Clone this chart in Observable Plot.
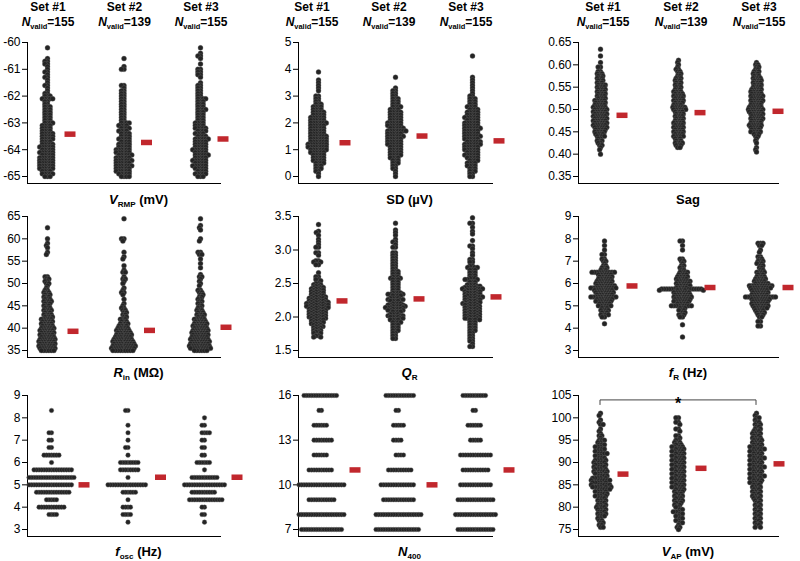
<!DOCTYPE html>
<html><head><meta charset="utf-8">
<script src="https://cdn.jsdelivr.net/npm/d3@7"></script>
<script src="https://cdn.jsdelivr.net/npm/@observablehq/plot@0.6"></script>
<style>
html,body{margin:0;padding:0;background:#fff;}
#chart{position:relative;width:800px;height:561px;overflow:hidden;}
#chart .panel{position:absolute;}
</style></head><body><div id="chart"></div>
<script>
// ---------- data (value, count) ----------
const sets = ["Set #1", "Set #2", "Set #3"];
const nValid = [155, 139, 155];

const vrmp1 = [[-60.2,1],[-60.6,1],[-60.7,2],[-60.8,2],[-60.9,1],[-61.0,1],[-61.1,2],[-61.2,1],[-61.3,2],[-61.4,1],[-61.5,1],[-61.6,2],[-61.7,1],[-61.8,1],[-61.9,2],[-62.0,3],[-62.1,5],[-62.2,2],[-62.3,2],[-62.4,3],[-62.5,3],[-62.6,3],[-62.7,3],[-62.8,3],[-62.9,3],[-63.0,4],[-63.1,4],[-63.2,4],[-63.3,4],[-63.4,5],[-63.5,5],[-63.6,5],[-63.7,4],[-63.8,5],[-63.9,6],[-64.0,5],[-64.1,6],[-64.2,5],[-64.3,6],[-64.4,6],[-64.5,6],[-64.6,6],[-64.7,6],[-64.8,4],[-64.9,5],[-65.0,3]];
const vrmp2 = [[-60.6,1],[-60.9,1],[-61.0,2],[-61.6,2],[-61.7,1],[-61.8,2],[-61.9,2],[-62.0,2],[-62.1,2],[-62.2,2],[-62.3,2],[-62.4,2],[-62.5,2],[-62.6,2],[-62.7,2],[-62.8,2],[-62.9,2],[-63.0,4],[-63.1,4],[-63.2,4],[-63.3,4],[-63.4,4],[-63.5,4],[-63.6,5],[-63.7,4],[-63.8,5],[-63.9,5],[-64.0,6],[-64.1,6],[-64.2,6],[-64.3,6],[-64.4,7],[-64.5,6],[-64.6,7],[-64.7,6],[-64.8,6],[-64.9,5],[-65.0,4]];
const vrmp3 = [[-60.2,1],[-60.4,1],[-60.5,2],[-60.6,1],[-60.8,1],[-61.0,2],[-61.1,2],[-61.2,2],[-61.3,1],[-61.5,1],[-61.6,2],[-61.7,2],[-61.8,2],[-61.9,2],[-62.0,2],[-62.1,4],[-62.2,3],[-62.3,3],[-62.4,3],[-62.5,4],[-62.6,3],[-62.7,3],[-62.8,3],[-62.9,3],[-63.0,4],[-63.1,4],[-63.2,5],[-63.3,4],[-63.4,4],[-63.5,4],[-63.6,6],[-63.7,5],[-63.8,5],[-63.9,5],[-64.0,6],[-64.1,5],[-64.2,6],[-64.3,5],[-64.4,6],[-64.5,5],[-64.6,6],[-64.7,5],[-64.8,4],[-64.9,5],[-65.0,3]];
const vrmpMeans = [-63.42, -63.73, -63.6];

const sd1 = [[3.9,1],[3.6,1],[3.5,1],[3.4,1],[3.3,1],[3.2,1],[3.0,2],[2.9,2],[2.8,2],[2.7,3],[2.6,4],[2.5,4],[2.4,5],[2.3,5],[2.2,6],[2.1,6],[2.0,7],[1.9,6],[1.8,6],[1.7,6],[1.6,6],[1.5,7],[1.4,7],[1.3,7],[1.2,8],[1.1,8],[1.0,7],[0.9,6],[0.8,5],[0.7,5],[0.6,5],[0.5,4],[0.4,3],[0.3,3],[0.2,2],[0.1,1],[0.0,1]];
const sd2 = [[3.7,1],[3.3,1],[3.2,2],[3.1,2],[3.0,2],[2.9,3],[2.8,3],[2.7,3],[2.6,4],[2.5,4],[2.4,5],[2.3,5],[2.2,5],[2.1,5],[2.0,6],[1.9,6],[1.8,6],[1.7,8],[1.6,6],[1.5,7],[1.4,6],[1.3,6],[1.2,6],[1.1,5],[1.0,5],[0.9,5],[0.8,5],[0.7,4],[0.6,3],[0.5,3],[0.4,2],[0.3,2],[0.2,1],[0.1,1],[0.0,1]];
const sd3 = [[4.5,1],[3.7,1],[3.6,1],[3.5,1],[3.4,1],[3.3,1],[3.2,1],[3.1,1],[3.0,2],[2.9,3],[2.8,3],[2.7,3],[2.6,4],[2.5,4],[2.4,5],[2.3,5],[2.2,6],[2.1,5],[2.0,6],[1.9,6],[1.8,7],[1.7,6],[1.6,6],[1.5,7],[1.4,6],[1.3,6],[1.2,7],[1.1,6],[1.0,6],[0.9,5],[0.8,6],[0.7,5],[0.6,4],[0.5,4],[0.4,4],[0.3,3],[0.2,3],[0.1,2],[0.0,2]];
const sdMeans = [1.26, 1.51, 1.33];

const sag1 = [[0.635,1],[0.62,1],[0.605,1],[0.595,2],[0.585,2],[0.58,3],[0.575,3],[0.57,3],[0.565,3],[0.56,3],[0.555,4],[0.55,4],[0.545,4],[0.54,4],[0.535,4],[0.53,4],[0.525,4],[0.52,5],[0.515,5],[0.51,5],[0.505,6],[0.5,6],[0.495,6],[0.49,6],[0.485,6],[0.48,6],[0.475,6],[0.47,6],[0.465,6],[0.46,6],[0.455,5],[0.45,5],[0.445,4],[0.44,4],[0.435,2],[0.43,3],[0.425,2],[0.42,2],[0.415,1],[0.41,1],[0.4,1]];
const sag2 = [[0.61,1],[0.605,1],[0.6,1],[0.595,1],[0.59,2],[0.585,2],[0.58,2],[0.575,2],[0.57,3],[0.565,3],[0.56,3],[0.555,3],[0.55,3],[0.545,3],[0.54,4],[0.535,4],[0.53,5],[0.525,4],[0.52,5],[0.515,4],[0.51,4],[0.505,6],[0.5,6],[0.495,4],[0.49,4],[0.485,4],[0.48,4],[0.475,4],[0.47,5],[0.465,4],[0.46,5],[0.455,4],[0.45,5],[0.445,4],[0.44,5],[0.435,3],[0.43,3],[0.425,4],[0.42,3],[0.415,2]];
const sag3 = [[0.605,1],[0.6,2],[0.595,2],[0.59,2],[0.585,3],[0.58,3],[0.575,3],[0.57,4],[0.565,4],[0.56,4],[0.555,4],[0.55,4],[0.545,5],[0.54,5],[0.535,5],[0.53,6],[0.525,5],[0.52,6],[0.515,5],[0.51,5],[0.505,6],[0.5,7],[0.495,6],[0.49,6],[0.485,5],[0.48,6],[0.475,5],[0.47,5],[0.465,6],[0.46,5],[0.455,4],[0.45,5],[0.445,3],[0.44,2],[0.435,1],[0.43,1],[0.425,1],[0.415,1],[0.41,1],[0.405,1]];
const sagMeans = [0.487, 0.493, 0.496];

const rin1 = [[62.5,1],[60,1],[59,1],[58.5,1],[58,1],[57,1],[56.5,1],[51.5,2],[51,2],[50.5,2],[50,2],[49.5,1],[49,1],[48.5,2],[48,3],[47.5,3],[47,3],[46.5,3],[46,4],[45.5,3],[45,3],[44.5,3],[44,4],[43.5,3],[43,4],[42.5,4],[42,5],[41.5,5],[41,5],[40.5,5],[40,6],[39.5,6],[39,6],[38.5,6],[38,6],[37.5,7],[37,7],[36.5,7],[36,7],[35.5,7],[35,6]];
const rin2 = [[64.5,1],[60,2],[59.5,1],[57,1],[56,1],[55.5,1],[54,1],[53,1],[52.5,2],[51.5,1],[51,2],[50.5,1],[50,1],[49,1],[48.5,1],[48,2],[47.5,1],[46.5,1],[45.5,1],[45,1],[44.5,2],[44,2],[43.5,2],[43,2],[42.5,2],[42,3],[41.5,3],[41,4],[40.5,4],[40,5],[39.5,6],[39,6],[38.5,7],[38,7],[37.5,8],[37,9],[36.5,9],[36,10],[35.5,10],[35,9]];
const rin3 = [[64.5,1],[63,1],[62.5,1],[62,1],[60,1],[59.5,1],[57,2],[56.5,2],[55.5,1],[54.5,1],[53.5,1],[52,1],[51.5,2],[51,1],[50.5,1],[50,1],[49.5,1],[48.5,2],[48,2],[47.5,2],[47,2],[46.5,2],[46,2],[45.5,2],[45,2],[44.5,2],[44,3],[43.5,3],[43,4],[42.5,3],[42,5],[41.5,5],[41,6],[40.5,6],[40,6],[39.5,7],[39,7],[38.5,7],[38,7],[37.5,8],[37,8],[36.5,8],[36,9],[35.5,9],[35,6]];
const rinMeans = [39.3, 39.5, 40.2];

const qr1 = [[3.38,1],[3.28,1],[3.26,1],[3.22,1],[3.16,1],[3.12,1],[3.08,1],[3.04,2],[2.96,2],[2.92,1],[2.84,2],[2.82,2],[2.78,2],[2.66,1],[2.6,2],[2.56,2],[2.54,1],[2.5,2],[2.48,2],[2.46,2],[2.44,3],[2.42,3],[2.4,3],[2.38,3],[2.36,3],[2.34,3],[2.32,3],[2.3,4],[2.28,4],[2.26,4],[2.24,4],[2.22,5],[2.2,5],[2.18,5],[2.16,5],[2.14,5],[2.12,4],[2.1,4],[2.08,4],[2.06,4],[2.04,4],[2.02,4],[2.0,4],[1.98,4],[1.96,3],[1.94,3],[1.92,3],[1.9,3],[1.88,2],[1.86,3],[1.84,2],[1.82,2],[1.8,2],[1.78,2],[1.76,2],[1.72,2],[1.7,2]];
const qr2 = [[3.4,1],[3.3,1],[3.26,1],[3.22,1],[3.16,1],[3.12,2],[3.08,1],[3.04,2],[2.96,2],[2.92,2],[2.88,2],[2.84,2],[2.8,2],[2.76,2],[2.72,2],[2.68,3],[2.64,3],[2.6,3],[2.58,2],[2.56,3],[2.52,3],[2.48,3],[2.44,3],[2.4,3],[2.36,4],[2.34,3],[2.32,4],[2.28,4],[2.26,3],[2.24,4],[2.2,4],[2.18,3],[2.16,5],[2.14,4],[2.12,4],[2.1,3],[2.08,4],[2.04,4],[2.02,3],[2.0,4],[1.98,2],[1.96,4],[1.92,4],[1.88,3],[1.84,3],[1.8,3],[1.76,2],[1.72,2],[1.68,2]];
const qr3 = [[3.48,1],[3.4,2],[3.34,1],[3.28,1],[3.24,1],[3.14,1],[3.06,2],[3.02,1],[2.96,1],[2.92,1],[2.86,2],[2.82,2],[2.76,2],[2.74,3],[2.7,3],[2.66,3],[2.62,3],[2.58,3],[2.56,3],[2.52,3],[2.48,4],[2.46,2],[2.44,5],[2.42,4],[2.4,4],[2.38,3],[2.36,4],[2.34,3],[2.32,4],[2.3,4],[2.28,3],[2.26,4],[2.24,3],[2.22,4],[2.2,4],[2.18,3],[2.16,4],[2.14,3],[2.12,4],[2.1,3],[2.08,4],[2.06,3],[2.04,4],[2.02,3],[2.0,4],[1.98,3],[1.96,4],[1.92,3],[1.88,3],[1.84,3],[1.8,3],[1.76,2],[1.72,2],[1.68,2],[1.64,2],[1.6,1],[1.56,2]];
const qrMeans = [2.24, 2.27, 2.30];

const fr1 = [[7.9,1],[7.7,1],[7.5,1],[7.3,2],[7.1,2],[7.0,2],[6.9,1],[6.8,2],[6.7,3],[6.6,3],[6.5,10],[6.4,6],[6.3,6],[6.2,6],[6.1,7],[6.0,7],[5.9,8],[5.8,11],[5.7,8],[5.6,8],[5.5,7],[5.4,11],[5.3,7],[5.2,7],[5.1,5],[5.0,6],[4.9,3],[4.8,4],[4.7,3],[4.6,4],[4.5,2],[4.2,1]];
const fr2 = [[7.9,2],[7.7,1],[7.5,1],[7.1,2],[7.0,2],[6.9,1],[6.8,2],[6.7,2],[6.6,2],[6.5,4],[6.4,4],[6.3,5],[6.2,5],[6.1,6],[6.0,6],[5.9,6],[5.8,5],[5.75,12],[5.7,6],[5.6,7],[5.5,7],[5.4,8],[5.3,7],[5.2,7],[5.1,5],[5.0,9],[4.9,3],[4.8,3],[4.7,2],[4.6,3],[4.5,2],[4.15,1],[3.6,1]];
const fr3 = [[7.8,3],[7.7,2],[7.5,1],[7.4,1],[7.2,2],[7.1,2],[7.0,3],[6.9,3],[6.8,2],[6.7,2],[6.6,2],[6.5,4],[6.4,3],[6.3,4],[6.2,5],[6.1,5],[6.0,6],[5.9,10],[5.8,9],[5.7,7],[5.6,7],[5.5,7],[5.4,13],[5.3,8],[5.2,7],[5.1,7],[5.0,7],[4.9,6],[4.8,4],[4.7,4],[4.6,3],[4.5,2],[4.3,2],[4.1,2]];
const frMeans = [5.89, 5.82, 5.82];

const fosc1 = [[8.33,1],[7.33,2],[7.0,2],[6.67,2],[6.33,7],[6.0,1],[5.67,16],[5.33,19],[5.0,18],[4.67,14],[4.33,5],[4.0,11],[3.67,4]];
const fosc2 = [[8.33,2],[7.67,1],[7.33,1],[7.0,1],[6.67,2],[6.33,1],[6.0,8],[5.67,8],[5.33,1],[5.0,16],[4.67,6],[4.33,1],[4.0,4],[3.67,4],[3.33,1]];
const fosc3 = [[8.0,1],[7.67,2],[7.33,4],[7.0,2],[6.67,2],[6.33,2],[6.0,6],[5.67,1],[5.33,11],[5.0,17],[4.67,10],[4.33,14],[4.0,2],[3.67,2],[3.33,1]];
const foscMeans = [5.0, 5.34, 5.34];

const n400a = [[16,14],[15,2],[14,6],[13,8],[12,6],[11,10],[10,19],[9,11],[8,19],[7,17]];
const n400b = [[16,12],[15,2],[14,5],[13,4],[12,4],[11,10],[10,14],[9,13],[8,19],[7,18]];
const n400c = [[16,10],[15,2],[14,6],[13,5],[12,13],[11,11],[10,13],[9,15],[8,17],[7,15]];
const n400Means = [11.0, 10.0, 11.0];

const vap1 = [[101,1],[100.5,1],[99.5,1],[99,1],[98.5,2],[97.5,1],[97,1],[96.5,1],[96,2],[95.5,1],[95,3],[94.5,2],[94,3],[93.5,3],[93,3],[92.5,3],[92,4],[91.5,3],[91,3],[90.5,4],[90,4],[89.5,4],[89,4],[88.5,4],[88,5],[87.5,4],[87,4],[86.5,5],[86,6],[85.5,5],[85,6],[84.5,6],[84,5],[83.5,4],[83,4],[82.5,4],[82,3],[81.5,3],[81,3],[80.5,3],[80,4],[79.5,3],[79,3],[78.5,3],[78,3],[77.5,2],[77,2],[76.5,2],[76,2],[75.5,2]];
const vap2 = [[100,2],[99,2],[98.5,1],[97.5,2],[97,1],[96,2],[95.5,1],[95,2],[94.5,2],[94,3],[93.5,4],[93,4],[92.5,4],[92,4],[91.5,4],[91,4],[90.5,4],[90,4],[89.5,4],[89,4],[88.5,4],[88,4],[87.5,4],[87,4],[86.5,4],[86,4],[85.5,4],[85,4],[84.5,4],[84,4],[83.5,3],[83,3],[82.5,3],[82,3],[81.5,3],[81,3],[80.5,2],[80,2],[79.5,2],[79,3],[78.5,2],[78,2],[77.5,2],[77,2],[76.5,2],[76,1],[75.5,2],[75,1]];
const vap3 = [[101,1],[100.5,1],[100,2],[99.5,1],[99,2],[98.5,2],[98,2],[97.5,2],[97,3],[96.5,3],[96,3],[95.5,3],[95,4],[94.5,3],[94,4],[93.5,4],[93,5],[92.5,4],[92,4],[91.5,4],[91,5],[90.5,4],[90,4],[89.5,4],[89,5],[88.5,4],[88,4],[87.5,4],[87,5],[86.5,4],[86,4],[85.5,4],[85,3],[84.5,3],[84,3],[83.5,3],[83,3],[82.5,3],[82,3],[81.5,2],[81,2],[80.5,2],[80,2],[79.5,2],[79,2],[78.5,2],[78,2],[77.5,2],[77,2],[76.5,2],[76,2],[75.5,2]];
const vapMeans = [87.4, 88.7, 89.7];
const vapSignificanceY = 103.9; // bracket level, Set #1 vs Set #3

// tick labels
const vrmpTicks = [-65, -64, -63, -62, -61, -60];
const sdTicks = [0, 1, 2, 3, 4, 5];
const sagTicks = [0.35, 0.40, 0.45, 0.50, 0.55, 0.60, 0.65];
const rinTicks = [35, 40, 45, 50, 55, 60, 65];
const qrTicks = [1.5, 2.0, 2.5, 3.0, 3.5];
const frTicks = [3, 4, 5, 6, 7, 8, 9];
const foscTicks = [3, 4, 5, 6, 7, 8, 9];
const n400Ticks = [7, 10, 13, 16];
const vapTicks = [75, 80, 85, 90, 95, 100, 105];

// ---------- layout ----------
const FONT = '"Liberation Sans", Arial, Helvetica, sans-serif';
const cols = [
  {axis: 27, c0: 20, step: 76.5, right: 250, ml: 27, hdx: 1},
  {axis: 298, c0: 20, step: 77, right: 521, ml: 45, hdx: -6},
  {axis: 578, c0: 22, step: 78, right: 798, ml: 45, hdx: 3}
];
const rows = [
  {top: 42, bottom: 176, labelY: 204},
  {top: 216, bottom: 350, labelY: 377},
  {top: 395, bottom: 529, labelY: 556}
];
const MT = 12, MB = 4, MR = 2, INSET = 7;
const f0 = d => String(d), f1 = d3.format(".1f"), f2 = d3.format(".2f");

// r: drawn dot radius; gap: centre-to-centre collision distance used by the dodge layout
const panels = [
  {row: 0, col: 0, data: [vrmp1, vrmp2, vrmp3], means: vrmpMeans, ticks: vrmpTicks, fmt: f0, r: 2.5, gap: 2.6, dx: 0, meanDx: 23, label: [["V","i"],["RMP","s"],[" (mV)",""]]},
  {row: 0, col: 1, data: [sd1, sd2, sd3], means: sdMeans, ticks: sdTicks, fmt: f0, r: 2.5, gap: 2.6, dx: 0, meanDx: 27, label: [["SD (µV)",""]]},
  {row: 0, col: 2, data: [sag1, sag2, sag3], means: sagMeans, ticks: sagTicks, fmt: f2, r: 2.5, gap: 2.4, dx: 0, meanDx: 22, label: [["Sag",""]]},
  {row: 1, col: 0, data: [rin1, rin2, rin3], means: rinMeans, ticks: rinTicks, fmt: f0, r: 2.5, gap: 2.5, dx: 0, meanDx: 26, label: [["R","i"],["in","s"],[" (MΩ)",""]]},
  {row: 1, col: 1, data: [qr1, qr2, qr3], means: qrMeans, ticks: qrTicks, fmt: f1, r: 2.5, gap: 2.6, dx: 0, meanDx: 24, label: [["Q","i"],["R","s"]]},
  {row: 1, col: 2, data: [fr1, fr2, fr3], means: frMeans, ticks: frTicks, fmt: f0, r: 2.5, gap: 2.5, dx: 4, meanDx: 32, label: [["f","i"],["R","s"],[" (Hz)",""]]},
  {row: 2, col: 0, data: [fosc1, fosc2, fosc3], means: foscMeans, ticks: foscTicks, fmt: f0, r: 2.3, gap: 2.5, dx: 4, meanDx: 37, label: [["f","i"],["osc","s"],[" (Hz)",""]]},
  {row: 2, col: 1, data: [n400a, n400b, n400c], means: n400Means, ticks: n400Ticks, fmt: f0, r: 2.3, gap: 2.5, dx: 3, meanDx: 37, label: [["N","i"],["400","s"]]},
  {row: 2, col: 2, data: [vap1, vap2, vap3], means: vapMeans, ticks: vapTicks, fmt: f0, r: 2.5, gap: 2.6, dx: 0, meanDx: 23, label: [["V","i"],["AP","s"],[" (mV)",""]], sig: vapSignificanceY}
];

function expand(pairs, set) {
  const out = [];
  for (const [v, c] of pairs) for (let k = 0; k < c; k++) out.push({set, value: v});
  return out;
}

const chart = document.getElementById("chart");
const rendered = [];

for (const p of panels) {
  const col = cols[p.col], row = rows[p.row];
  const left = col.axis - col.ml;
  const width = col.right - left + MR;
  const top = row.top - MT;
  const height = MT + (row.bottom - row.top) + INSET + MB;
  const bw = 2 * col.c0;
  const pi = (col.step - bw) / col.step;
  const po = Math.max(0, ((col.right - col.axis) / col.step - 3 + pi) / 2);
  const dots = sets.flatMap((s, i) => expand(p.data[i], s));
  const means = sets.map((s, i) => ({set: s, mean: p.means[i]}));
  const ins = (bw - 11) / 2;
  const plot = Plot.plot({
    width, height,
    marginLeft: col.ml, marginRight: MR, marginTop: MT, marginBottom: MB,
    style: {fontFamily: FONT, fontSize: "12px", color: "#000", background: "transparent", overflow: "visible"},
    fx: {domain: sets, axis: null, paddingInner: pi, paddingOuter: po, align: 0, round: false},
    y: {domain: [p.ticks[0], p.ticks[p.ticks.length - 1]], ticks: p.ticks, tickFormat: p.fmt, tickSize: 5, tickPadding: 2, label: null, insetBottom: INSET},
    marks: [
      Plot.frame({anchor: "left", facet: "super", stroke: "#000", strokeWidth: 1}),
      Plot.frame({anchor: "bottom", facet: "super", stroke: "#000", strokeWidth: 1}),
      Plot.dot(dots, Plot.dodgeX({anchor: "middle", padding: 0, r: p.gap / 2}, {fx: "set", y: "value", r: p.r, fill: "#242424", stroke: "#6b6b6b", strokeWidth: 0.35, dx: p.dx})),
      Plot.tickY(means, {fx: "set", y: "mean", stroke: "#c1272d", strokeWidth: 5.5, insetLeft: ins, insetRight: ins, dx: p.meanDx})
    ]
  });
  plot.classList.add("panel");
  plot.style.left = left + "px";
  plot.style.top = top + "px";
  chart.appendChild(plot);
  rendered.push({p, plot, left, top, col, row});
}

// ---------- text overlay: headers, axis titles, significance bracket ----------
const overlay = d3.select(chart).append("svg")
  .attr("width", 800).attr("height", 561)
  .style("position", "absolute").style("left", "0px").style("top", "0px")
  .style("pointer-events", "none").style("font-family", FONT);

function richText(x, y, parts, size) {
  const t = overlay.append("text").attr("x", x).attr("y", y)
    .attr("text-anchor", "middle").attr("font-weight", "bold").attr("font-size", size)
    .style("white-space", "pre").attr("fill", "#000");
  let shifted = false;
  for (const [txt, kind] of parts) {
    const ts = t.append("tspan").text(txt);
    if (kind === "i") ts.attr("font-style", "italic");
    if (kind === "s") { ts.attr("font-size", size * 0.62).attr("dy", 3); shifted = true; }
    else if (shifted) { ts.attr("dy", -3); shifted = false; }
  }
}

for (const {p, plot, left, top, col, row} of rendered) {
  const fx = plot.scale("fx");
  const center = s => left + fx.apply(s) + fx.bandwidth / 2;
  if (p.row === 0) {
    sets.forEach((s, i) => {
      const x = center(s) + col.hdx;
      richText(x, 11, [[s, ""]], 12);
      richText(x, 26, [["N", "i"], ["valid", "s"], ["=" + nValid[i], ""]], 12);
    });
  }
  richText((col.axis + col.right) / 2, row.labelY, p.label, 13);
  if (p.sig !== undefined) {
    const y = plot.scale("y");
    const yb = top + y.apply(p.sig);
    const x1 = center(sets[0]), x3 = center(sets[2]);
    overlay.append("path")
      .attr("d", `M${x1},${yb + 5}V${yb}H${x3}V${yb + 5}`)
      .attr("fill", "none").attr("stroke", "#444").attr("stroke-width", 1);
    overlay.append("text").attr("x", center(sets[1])).attr("y", yb + 9)
      .attr("text-anchor", "middle").attr("font-size", 16).attr("font-weight", "bold").text("*");
  }
}
</script></body></html>
